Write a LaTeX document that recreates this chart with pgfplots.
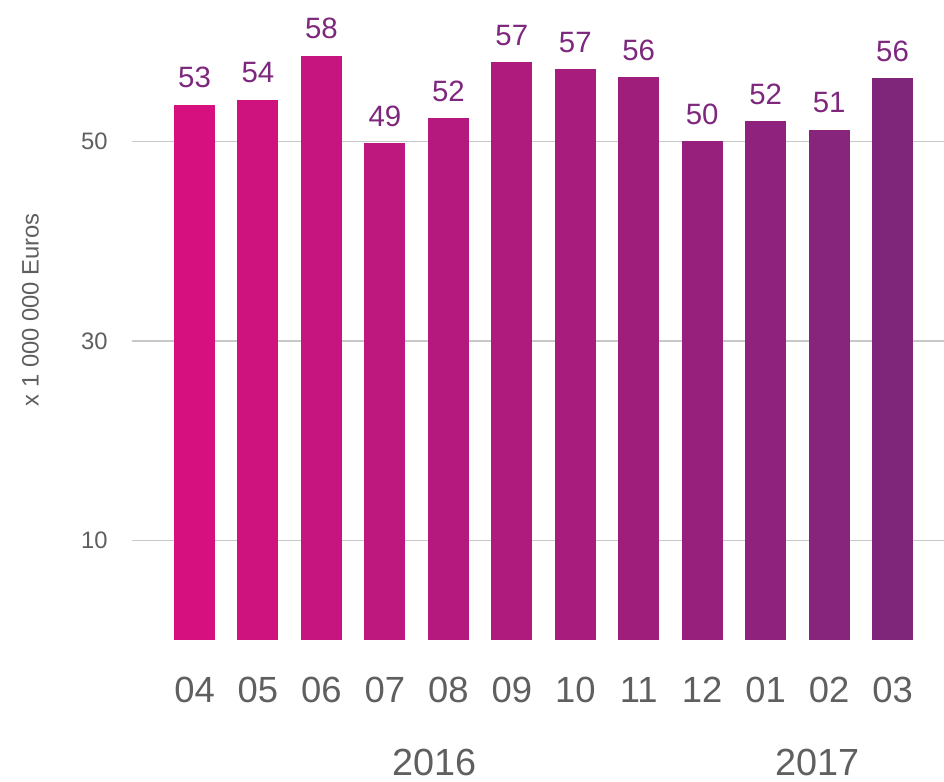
\documentclass[border=0pt]{standalone}
\usepackage{fontspec}
\setmainfont{Liberation Sans}
\usepackage{pgfplots}
\pgfplotsset{compat=1.18}

\definecolor{c0}{RGB}{214,17,127}
\definecolor{c1}{RGB}{206,19,127}
\definecolor{c2}{RGB}{198,21,126}
\definecolor{c3}{RGB}{190,23,126}
\definecolor{c4}{RGB}{182,25,126}
\definecolor{c5}{RGB}{174,27,125}
\definecolor{c6}{RGB}{167,28,125}
\definecolor{c7}{RGB}{159,30,124}
\definecolor{c8}{RGB}{151,32,124}
\definecolor{c9}{RGB}{143,34,124}
\definecolor{c10}{RGB}{135,36,123}
\definecolor{c11}{RGB}{127,38,123}
\definecolor{valtxt}{RGB}{125,40,125}
\definecolor{ticktxt}{RGB}{95,95,95}
\definecolor{gridc}{RGB}{200,200,200}

\begin{document}
\begin{tikzpicture}
\begin{axis}[
  scale only axis,
  width=406pt, height=320pt,
  xmin=-0.985, xmax=11.81,
  ymin=0, ymax=64.2,
  axis line style={draw=none},
  clip=false,
  ybar, bar width=20.5pt, bar shift=0pt,
  ytick={10,30,50},
  xtick={0,...,11},
  xticklabels={04,05,06,07,08,09,10,11,12,01,02,03},
  /pgf/number format/assume math mode=true,
  major tick length=0pt,
  tick style={draw=none},
  ymajorgrids=true,
  major grid style={draw=gridc, line width=0.8pt},
  xticklabel style={anchor=base, inner sep=0pt, yshift=-31.5pt,
    font=\fontsize{18.2}{20}\selectfont, text=ticktxt},
  yticklabel style={anchor=east, inner sep=0pt, xshift=-12pt,
    font=\fontsize{11.9}{13}\selectfont, text=ticktxt},
  nodes near coords,
  point meta=explicit symbolic,
  every node near coord/.append style={anchor=base, inner sep=0pt, yshift=8.5pt,
    font=\fontsize{14.7}{16}\selectfont, text=valtxt},
]
\addplot[fill=c0, draw=none] coordinates {(0,53.68) [53]};
\addplot[fill=c1, draw=none] coordinates {(1,54.19) [54]};
\addplot[fill=c2, draw=none] coordinates {(2,58.60) [58]};
\addplot[fill=c3, draw=none] coordinates {(3,49.83) [49]};
\addplot[fill=c4, draw=none] coordinates {(4,52.34) [52]};
\addplot[fill=c5, draw=none] coordinates {(5,57.96) [57]};
\addplot[fill=c6, draw=none] coordinates {(6,57.26) [57]};
\addplot[fill=c7, draw=none] coordinates {(7,56.46) [56]};
\addplot[fill=c8, draw=none] coordinates {(8,50.03) [50]};
\addplot[fill=c9, draw=none] coordinates {(9,52.04) [52]};
\addplot[fill=c10, draw=none] coordinates {(10,51.18) [51]};
\addplot[fill=c11, draw=none] coordinates {(11,56.36) [56]};

\node[anchor=base, inner sep=0pt, text=ticktxt, font=\fontsize{18.9}{20}\selectfont]
  at (axis cs:3.78,-13.6) {2016};
\node[anchor=base, inner sep=0pt, text=ticktxt, font=\fontsize{18.9}{20}\selectfont]
  at (axis cs:9.82,-13.6) {2017};
\node[shift={(-50.75pt,0pt)}, rotate=90, inner sep=0pt, text=ticktxt, font=\fontsize{11.9}{13}\selectfont]
  at (rel axis cs:0,0.516) {x 1 000 000 Euros};
\end{axis}
\pgfresetboundingbox
\path (current axis.south west) ++(-66pt,-71pt) rectangle (current axis.north east);
\end{tikzpicture}
\end{document}
